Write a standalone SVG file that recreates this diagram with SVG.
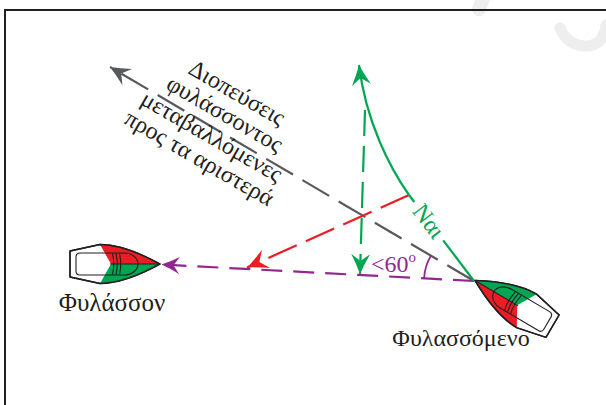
<svg xmlns="http://www.w3.org/2000/svg" width="606" height="405" viewBox="0 0 606 405">
  <style>
    .serif { font-family: "Liberation Serif", "DejaVu Serif", serif; }
    .lbl { fill: #231f20; }
    .hull { fill: #ffffff; stroke: #231f20; stroke-width: 1.3; stroke-linejoin: round; }
    .trim { fill: none; stroke: #231f20; stroke-width: 1.1; }
    .dash { fill: none; stroke-width: 2.2; }
  </style>
  <defs>
    <marker id="ah-gray" markerUnits="userSpaceOnUse" orient="auto" overflow="visible" markerWidth="1" markerHeight="1">
      <path d="M0,0 Q-10,-4 -20,-9.5 L-13,0 L-20,9.5 Q-10,4 0,0 Z" fill="#58595b"/>
    </marker>
    <marker id="ah-red" markerUnits="userSpaceOnUse" orient="auto" overflow="visible" markerWidth="1" markerHeight="1">
      <path d="M0,0 Q-10,-4 -21,-10 L-13.5,0 L-21,10 Q-10,4 0,0 Z" fill="#ed1c24"/>
    </marker>
    <marker id="ah-green" markerUnits="userSpaceOnUse" orient="auto" overflow="visible" markerWidth="1" markerHeight="1">
      <path d="M0,0 Q-10,-4 -20,-9.5 L-13,0 L-20,9.5 Q-10,4 0,0 Z" fill="#00a651"/>
    </marker>
    <marker id="ah-purple" markerUnits="userSpaceOnUse" orient="auto" overflow="visible" markerWidth="1" markerHeight="1">
      <path d="M0,0 Q-9,-3.5 -18,-8.5 L-12,0 L-18,8.5 Q-9,3.5 0,0 Z" fill="#92278f"/>
    </marker>
    <!-- sailing boat seen from above, bow at the origin pointing along +x -->
    <g id="boat">
      <path class="hull" d="M0,0 C-22,-12 -42,-19.5 -60,-19.5 L-90,-13 L-90,13 L-60,19.5 C-42,19.5 -22,12 0,0 Z"/>
      <path d="M0,0 C-22,-12 -42,-19.5 -60,-19.5 L-49,0 Z" fill="#ed1c24"/>
      <path d="M0,0 C-22,12 -42,19.5 -60,19.5 L-49,0 Z" fill="#00a651"/>
      <path d="M0,0 C-22,-12 -42,-19.5 -60,-19.5 L-90,-13 L-90,13 L-60,19.5 C-42,19.5 -22,12 0,0 Z" fill="none" stroke="#231f20" stroke-width="1.5" stroke-linejoin="round"/>
      <path class="trim" d="M-80,-11 L-36,-11 C-28,-11 -22,-6 -22,0 C-22,6 -28,11 -36,11 L-80,11 Q-84,11 -84,7 L-84,-7 Q-84,-11 -80,-11 Z"/>
      <path class="trim" d="M-50,0 L0,0"/>
      <path class="trim" d="M-47.5,-10.5 Q-45,0 -47.5,10.5 M-44,-10.5 Q-41.5,0 -44,10.5 M-40.5,-10.5 Q-38,0 -40.5,10.5"/>
    </g>
  </defs>

  <rect width="606" height="405" fill="#ffffff"/>

  <!-- faint marks in the top right corner -->
  <g fill="none" stroke="#eeeeee" stroke-linecap="round">
    <path d="M485,-6 L479,9" stroke-width="14"/>
    <path d="M560,28 Q568,47 588,46 Q604,44 606,25" stroke-width="11"/>
  </g>

  <!-- frame -->
  <path d="M5,405 L5,10 L606,10" fill="none" stroke="#231f20" stroke-width="2"/>

  <!-- connectors -->
  <g id="connectors">
    <path class="dash" d="M474,281 L110,67" stroke="#58595b" stroke-dasharray="31 11" marker-end="url(#ah-gray)"/>
    <path class="dash" d="M474,281 L161.5,264.5" stroke="#92278f" stroke-dasharray="21 11" marker-end="url(#ah-purple)"/>
    <path class="dash" d="M409,195 L247,267.5" stroke="#ed1c24" stroke-dasharray="31 10" marker-end="url(#ah-red)"/>
    <path class="dash" d="M365,110 L360,274" stroke="#00a651" stroke-dasharray="26 10" marker-end="url(#ah-green)"/>
    <path d="M474,281 L443.2,240.3" fill="none" stroke="#00a651" stroke-width="2.2"/>
    <path d="M414.3,202 L409,195 C390,168 366,122 359,65" fill="none" stroke="#00a651" stroke-width="2.2" marker-end="url(#ah-green)"/>
    <path d="M424.1,278.2 A50,50 0 0 1 430.9,255.6" fill="none" stroke="#92278f" stroke-width="1.8"/>
    <text class="serif" transform="translate(428.8,221.2) rotate(52.9)" y="8" text-anchor="middle" font-size="24" fill="#00a651">Ναι</text>
    <text class="serif" x="371" y="272" font-size="24" fill="#92278f">&lt;60<tspan font-size="15" dy="-10">o</tspan></text>
    <g class="serif lbl" font-size="24" transform="translate(220.5,121.5) rotate(30)" text-anchor="middle">
      <text x="0" y="-25.5">Διοπεύσεις</text>
      <text x="0" y="-1">φυλάσσοντος</text>
      <text x="0" y="25">μεταβαλλόμενες</text>
      <text x="0" y="50">προς τα αριστερά</text>
    </g>
  </g>

  <!-- give-way boat -->
  <g id="node-keeping">
    <use href="#boat" transform="translate(160,264)"/>
    <text class="serif lbl" x="112" y="311" text-anchor="middle" font-size="25">Φυλάσσον</text>
  </g>

  <!-- stand-on boat -->
  <g id="node-kept">
    <use href="#boat" transform="translate(475,280.5) rotate(210.5)"/>
    <text class="serif lbl" x="461" y="346" text-anchor="middle" font-size="24">Φυλασσόμενο</text>
  </g>
</svg>
